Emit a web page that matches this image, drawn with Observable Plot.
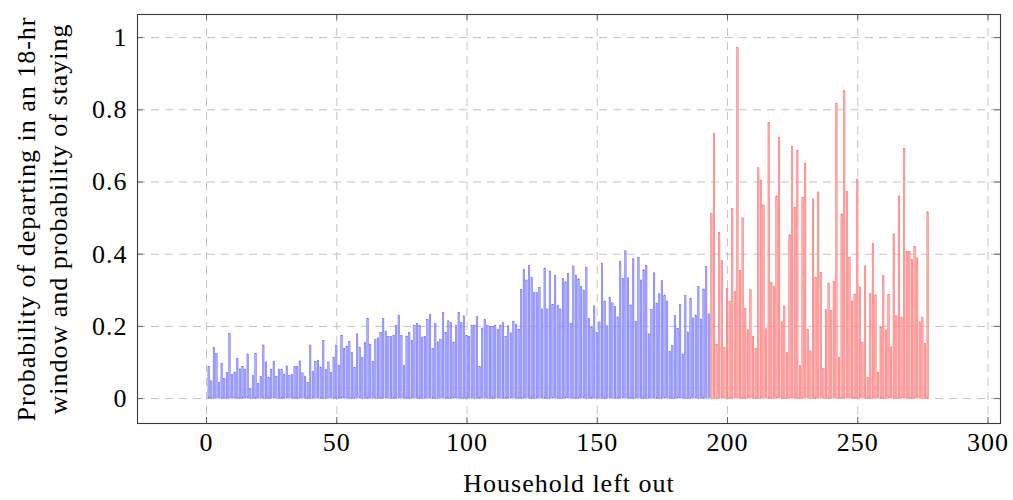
<!DOCTYPE html>
<html>
<head>
<meta charset="utf-8">
<script src="https://cdn.jsdelivr.net/npm/d3@7"></script>
<script src="https://cdn.jsdelivr.net/npm/@observablehq/plot@0.6"></script>
<style>
  html, body { margin: 0; padding: 0; background: #fff; }
</style>
</head>
<body>
<div id="chart"></div>
<script>
// Households 1..193 (blue) and 194..277 (red, left-out households)
const blueStart = 1;
const blueValues = [
  0.087, 0.048, 0.141, 0.124, 0.044, 0.096, 0.055, 0.071, 0.179, 0.066,
  0.072, 0.110, 0.081, 0.088, 0.079, 0.122, 0.026, 0.062, 0.124, 0.041,
  0.060, 0.147, 0.100, 0.058, 0.080, 0.102, 0.060, 0.080, 0.080, 0.066,
  0.089, 0.063, 0.066, 0.087, 0.087, 0.103, 0.070, 0.061, 0.044, 0.147,
  0.073, 0.102, 0.105, 0.086, 0.160, 0.079, 0.100, 0.071, 0.112, 0.147,
  0.091, 0.174, 0.138, 0.144, 0.157, 0.126, 0.085, 0.178, 0.141, 0.113,
  0.155, 0.221, 0.149, 0.102, 0.162, 0.167, 0.182, 0.221, 0.184, 0.171,
  0.171, 0.174, 0.202, 0.229, 0.174, 0.091, 0.172, 0.182, 0.160, 0.202,
  0.206, 0.202, 0.169, 0.171, 0.218, 0.231, 0.137, 0.206, 0.156, 0.163,
  0.237, 0.182, 0.214, 0.209, 0.155, 0.202, 0.237, 0.209, 0.228, 0.174,
  0.171, 0.202, 0.202, 0.226, 0.088, 0.194, 0.218, 0.202, 0.199, 0.199,
  0.202, 0.191, 0.202, 0.209, 0.171, 0.200, 0.181, 0.213, 0.205, 0.191,
  0.301, 0.356, 0.327, 0.368, 0.334, 0.292, 0.292, 0.307, 0.247, 0.360,
  0.247, 0.352, 0.260, 0.340, 0.256, 0.247, 0.331, 0.322, 0.345, 0.207,
  0.366, 0.341, 0.330, 0.309, 0.299, 0.362, 0.220, 0.197, 0.255, 0.182,
  0.211, 0.374, 0.269, 0.200, 0.279, 0.264, 0.254, 0.225, 0.378, 0.332,
  0.408, 0.333, 0.258, 0.386, 0.212, 0.390, 0.327, 0.355, 0.368, 0.178,
  0.246, 0.347, 0.263, 0.289, 0.326, 0.285, 0.269, 0.130, 0.146, 0.229,
  0.193, 0.260, 0.122, 0.284, 0.183, 0.276, 0.222, 0.230, 0.309, 0.219,
  0.302, 0.365, 0.233
];
const redStart = 194;
const redValues = [
  0.512, 0.733, 0.148, 0.459, 0.381, 0.141, 0.304, 0.268, 0.525, 0.295,
  0.971, 0.354, 0.499, 0.249, 0.189, 0.300, 0.170, 0.137, 0.638, 0.603,
  0.535, 0.192, 0.763, 0.321, 0.310, 0.560, 0.722, 0.211, 0.255, 0.126,
  0.452, 0.698, 0.529, 0.686, 0.090, 0.555, 0.650, 0.191, 0.131, 0.552,
  0.335, 0.571, 0.348, 0.083, 0.246, 0.318, 0.243, 0.324, 0.816, 0.113,
  0.510, 0.853, 0.573, 0.390, 0.269, 0.288, 0.605, 0.308, 0.155, 0.366,
  0.057, 0.290, 0.428, 0.286, 0.072, 0.196, 0.340, 0.189, 0.287, 0.142,
  0.455, 0.228, 0.560, 0.224, 0.692, 0.406, 0.406, 0.384, 0.420, 0.388,
  0.211, 0.223, 0.152, 0.516
];
const xTicks = [0, 50, 100, 150, 200, 250, 300];
const yTicks = [0, 0.2, 0.4, 0.6, 0.8, 1];
const xLabel = "Household left out";
const yLabel = "Probability of departing in an 18-hr\nwindow and probability of staying";

const blue = blueValues.map((v, i) => ({x: blueStart + i, v}));
const red = redValues.map((v, i) => ({x: redStart + i, v}));
const half = 0.28;

const chart = Plot.plot({
  width: 1013,
  height: 500,
  marginLeft: 137,
  marginRight: 13,
  marginTop: 14,
  marginBottom: 77,
  style: {fontFamily: "'Liberation Serif', serif", fontSize: "26px", letterSpacing: "1px", color: "#000", background: "#fff"},
  x: {domain: [-26.5, 304.8]},
  y: {domain: [-0.069, 1.064]},
  marks: [
    Plot.gridX(xTicks, {stroke: "#c4c4c4", strokeOpacity: 1, strokeDasharray: "8,6"}),
    Plot.gridY(yTicks, {stroke: "#c4c4c4", strokeOpacity: 1, strokeDasharray: "8,6"}),
    Plot.rectY(blue, {x1: d => d.x - half, x2: d => d.x + half, y1: 0, y2: "v", fill: "#b3b3ff", stroke: "#6161ff", strokeWidth: 0.5}),
    Plot.rectY(red, {x1: d => d.x - half, x2: d => d.x + half, y1: 0, y2: "v", fill: "#ffb3b3", stroke: "#ff6161", strokeWidth: 0.5}),
    Plot.tickX(xTicks, {insetTop: 403, stroke: "#666"}),
    Plot.tickX(xTicks, {insetBottom: 403, stroke: "#666"}),
    Plot.tickY(yTicks, {insetRight: 857, stroke: "#666"}),
    Plot.tickY(yTicks, {insetLeft: 857, stroke: "#666"}),
    Plot.frame({stroke: "#3a3a3a", strokeWidth: 1.1}),
    Plot.axisX(xTicks, {tickSize: 0, tickPadding: 9, label: null, fontSize: 26}),
    Plot.axisY(yTicks, {tickSize: 0, tickPadding: 10, label: null, fontSize: 26, tickFormat: d3.format("~g")}),
    Plot.text([xLabel], {frameAnchor: "bottom", dy: 60, lineAnchor: "middle", fontSize: 26}),
    Plot.text([yLabel], {frameAnchor: "left", dx: -97, rotate: -90, lineAnchor: "middle", textAnchor: "middle", lineHeight: 1.25, fontSize: 26})
  ]
});
document.getElementById("chart").appendChild(chart);
</script>
</body>
</html>
